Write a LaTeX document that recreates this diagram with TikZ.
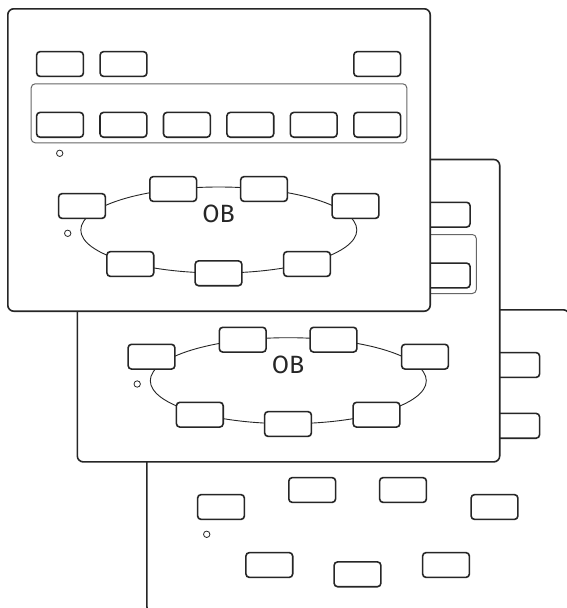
\documentclass[tikz,border=0pt]{standalone}
\usepackage{fontspec}
\newfontfamily\labelfont{Fira Sans}
\usetikzlibrary{shapes.geometric}

\begin{document}
\begin{tikzpicture}[x=1pt, y=-1pt]
    \colorlet{ink}{black!85}
    \colorlet{rim}{black!60}

    \tikzset{
        panel/.style={draw=ink, fill=white, line width=1.6pt, rounded corners=6pt,
            minimum width=422.4pt, minimum height=302.4pt, inner sep=0pt},
        btn/.style={draw=ink, fill=white, line width=1.6pt, rounded corners=3.5pt,
            minimum width=46.8pt, minimum height=24.8pt, inner sep=0pt},
        grp/.style={draw=rim, line width=1pt, rounded corners=4pt,
            minimum width=375.6pt, minimum height=59pt, inner sep=0pt},
        ring/.style={ellipse, draw=ink, line width=0.9pt,
            minimum width=276pt, minimum height=86pt, inner sep=0pt},
        dot/.style={circle, draw=ink, line width=0.8pt, minimum size=6.4pt, inner sep=0pt},
        tag/.style={font=\labelfont\fontsize{25}{25}\selectfont, text=ink, inner sep=0pt}
    }

    \useasboundingbox (0,0) rectangle (567,608);
    \clip (0,0) rectangle (567,608);

    % Macro for the outline of a panel, shifted by (#2,#3)
    \newcommand{\panelframe}[3]{
        \begin{scope}[shift={(#2,#3)}]
            \node[panel] (#1-frame) at (219,160) {};
        \end{scope}
    }

    % Macro for the bar round the lower key row, the ring and its label
    \newcommand{\panelring}[3]{
        \begin{scope}[shift={(#2,#3)}]
            \node[grp] (#1-bar) at (219,113.3) {};
            \node[ring] (#1-ring) at (218.8,230) {};
            \node[tag] (#1-ob) at (218.5,214) {OB};
        \end{scope}
    }

    % Macro for the keys and the two dots of a panel
    \newcommand{\panelkeys}[3]{
        \begin{scope}[shift={(#2,#3)}]
            \foreach \n/\x in {1/60, 2/123.5, 3/377.2}
                \node[btn] (#1-top\n) at (\x,64) {};
            \foreach \n/\x in {1/60, 2/123.4, 3/186.9, 4/250.3, 5/313.7, 6/377.2}
                \node[btn] (#1-row\n) at (\x,124.8) {};
            \foreach \n/\x/\y in {1/82/206, 2/173.2/189, 3/264/189, 4/355.5/206,
                                  5/307/264, 6/218.5/273.3, 7/130.3/264}
                \node[btn] (#1-seat\n) at (\x,\y) {};
            \node[dot] (#1-dot1) at (59.7,153.3) {};
            \node[dot] (#1-dot2) at (67.7,233.3) {};
        \end{scope}
    }

    % Back panel (keys only)
    \panelframe{back}{139}{301}
    \panelkeys{back}{139}{301}

    % Middle panel
    \panelframe{mid}{69.5}{150.7}
    \panelring{mid}{69.5}{150.7}
    \panelkeys{mid}{69.5}{150.7}

    % Front panel
    \panelframe{front}{0}{0}
    \panelring{front}{0}{0}
    \panelkeys{front}{0}{0}
\end{tikzpicture}
\end{document}
